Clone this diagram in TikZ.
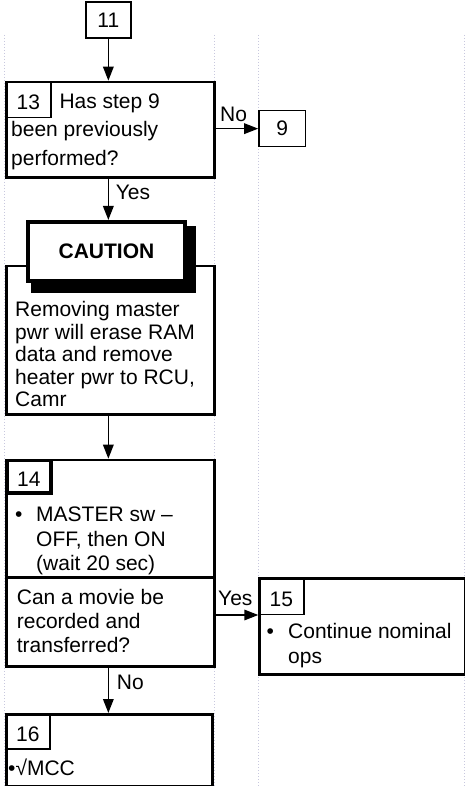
\documentclass[tikz,border=0pt]{standalone}
\usepackage{fontspec}
\setmainfont{Liberation Sans}
\usepackage{tikz}
\usetikzlibrary{arrows.meta, positioning, calc, backgrounds}
\definecolor{guiaGris}{RGB}{200,200,222}

\begin{document}
\begin{tikzpicture}[x=1pt, y=-1pt,
  font=\fontsize{21}{22.5}\selectfont,
  stepbox/.style={draw, line width=2.6pt, anchor=north west, inner sep=0pt},
  refbox/.style={draw, line width=1.6pt, inner sep=0pt, minimum width=45.3pt, minimum height=35.5pt},
  numbox/.style={draw, line width=1.5pt, anchor=north west, inner sep=0pt,
                 text height=20pt, text depth=0pt},
  txt/.style={anchor=base west, inner sep=0pt, align=left},
  arr/.style={-{Triangle[length=14pt, width=10.5pt]}, line width=1.7pt},
  guide/.style={draw=guiaGris, line width=1pt, dash pattern=on 1pt off 2pt}
]
  \useasboundingbox (0,0) rectangle (465,786);

  % lane guides
  \begin{pgfonlayer}{background}
    \foreach \gx in {4,214,258,464}
      \draw[guide] (\gx,35) -- (\gx,786);
  \end{pgfonlayer}

  % step 11 and 13 (multi-line texts sit on their last baseline)
  \node[refbox] (b11) at (108.35,20) {11};
  \node[stepbox, minimum width=208pt, minimum height=95.3pt] (q13) at (5.3,80.7) {};
  \node[numbox, minimum width=44.7pt, minimum height=36.3pt] (n13) at (q13.north west) {13};
  \node[txt] (t13a) at (59.3,108.3) {Has step 9};
  \node[txt, font=\fontsize{21}{28.5}\selectfont] (t13b) at (11,165.5) {been previously\\performed?};
  \node[refbox, minimum width=46.3pt, minimum height=36pt] (b9) at (282.15,128.65) {9};

  % caution
  \node[stepbox, minimum width=208pt, minimum height=148.3pt] (cbody) at (5.3,264.7) {};
  \node[draw, line width=4pt, fill=white, inner sep=0pt, minimum width=157pt, minimum height=59pt,
        font=\fontsize{21}{22.5}\selectfont\bfseries] (caut) at (106.5,251.5) {CAUTION};
  \begin{pgfonlayer}{background}
    \fill ([shift={(5,6)}]caut.north west) rectangle ([shift={(9,10)}]caut.south east);
  \end{pgfonlayer}
  \node[txt] (tcaut) at (15,406.7) {Removing master\\pwr will erase RAM\\data and remove\\heater pwr to RCU,\\Camr};

  % step 14
  \node[stepbox, minimum width=208pt, minimum height=206.3pt] (b14) at (5.3,458.7) {};
  \node[numbox, line width=3.5pt, minimum width=43.7pt, minimum height=32.3pt] (n14) at (b14.north west) {14};
  \node[txt] (d14) at (15,521.7) {•};
  \node[txt, font=\fontsize{21}{24.5}\selectfont] (t14) at (36,570.7) {MASTER sw –\\OFF, then ON\\(wait 20 sec)};
  \coordinate (div) at (0,577.3);
  \draw[line width=2.6pt] (b14.west |- div) -- (b14.east |- div);
  \node[txt, font=\fontsize{21}{24.3}\selectfont] (q14) at (16.7,652.6) {Can a movie be\\recorded and\\transferred?};

  % step 15
  \node[stepbox, minimum width=206pt, minimum height=95.7pt] (b15) at (258.3,577.3) {};
  \node[numbox, minimum width=44.7pt, minimum height=36.2pt] (n15) at (b15.north west) {15};
  \node[txt] (d15) at (266.5,638.5) {•};
  \node[txt, font=\fontsize{21}{24.8}\selectfont] (t15) at (288,663.3) {Continue nominal\\ops};

  % step 16
  \node[stepbox, minimum width=205.7pt, minimum height=71.7pt] (b16) at (5.3,713) {};
  \node[numbox, minimum width=43.7pt, minimum height=35pt] (n16) at (b16.north west) {16};
  \node[txt] (t16) at (8,775) {•√MCC};

  % connectors
  \draw[arr] (b11.south) -- (b11.south |- q13.north);
  \draw[arr] (q13.east |- b9) -- (b9.west);
  \draw[arr] (b11.south |- q13.south) -- (b11.south |- caut.north);
  \draw[arr] (b11.south |- cbody.south) -- (b11.south |- b14.north);
  \draw[arr] (b14.east |- n15.south) -- (b15.west |- n15.south);
  \draw[arr] (b11.south |- b14.south) -- (b11.south |- b16.north);

  % branch labels
  \node[txt] (lno1) at (220,121.7) {No};
  \node[txt] (lyes1) at (115.7,199.3) {Yes};
  \node[txt] (lyes2) at (218,605.7) {Yes};
  \node[txt] (lno2) at (116.7,689.3) {No};
\end{tikzpicture}
\end{document}
